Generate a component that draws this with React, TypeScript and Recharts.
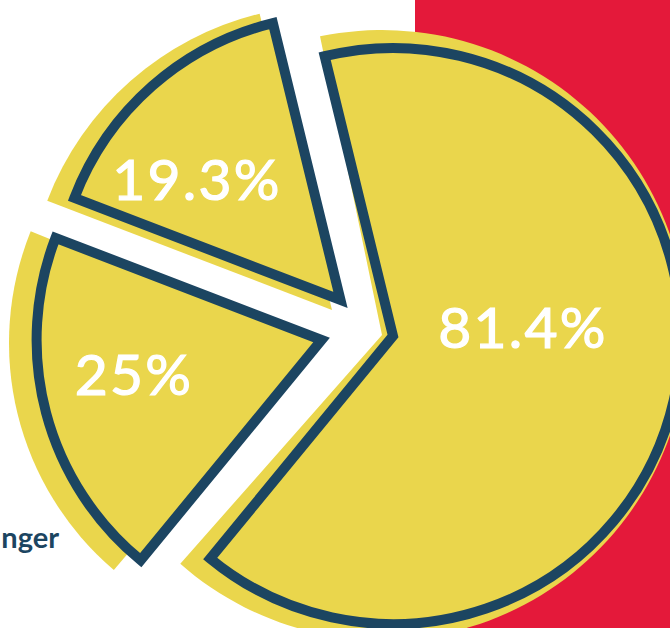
import React from 'react';
import { PieChart, Pie, Cell } from 'recharts';

// values as printed on the slices (the pie is drawn from them as-is)
const categories = ['A', 'B', 'C'];
const values = [81.4, 19.3, 25];
const sideText = 'nger';

const data = categories.map((name, i) => ({ name, value: values[i] }));

const YELLOW = '#EAD64C';
const NAVY = '#1C4561';
const RED = '#E4193A';

const START_ANGLE = 230.6;
const MAIN_R = [288, 285, 285];
// each slice is exploded on its own centre
const MAIN_CENTERS = [[388, 331], [335.5, 295], [316.6, 335]];
// the yellow "offset" copy behind each outlined slice
const SHADOW_SHIFT = [[-11, -1], [-8.5, 10], [-14.6, 3]];
const SHADOW_R = [305, 305, 298];
const SHADOW_ROT = [-2, 0, -1];
const LABEL_POS = [[523, 348], [197, 200], [134, 395]];

const labelFor = (slice: number) => (props: any) => {
  if (props.index !== slice) return null;
  const [x, y] = LABEL_POS[slice];
  return (
    <text
      key={`lbl-${slice}`}
      x={x}
      y={y}
      textAnchor="middle"
      fill="#ffffff"
      stroke="#ffffff"
      strokeWidth={1.2}
      fontFamily="Lato, 'Open Sans', sans-serif"
      fontWeight={400}
      fontSize={57}
      letterSpacing={2.2}
    >
      {`${values[slice]}%`}
    </text>
  );
};

export default function App() {
  return (
    <div style={{ position: 'fixed', left: 0, top: 0, width: 670, height: 628, overflow: 'hidden', background: '#fff' }}>
      <div style={{ position: 'absolute', left: 415, top: 0, width: 255, height: 628, background: RED }} />
      <div
        style={{
          position: 'absolute', right: 670 - 59, top: 519, fontFamily: 'Lato, sans-serif', fontWeight: 700,
          fontSize: 29, color: NAVY, whiteSpace: 'nowrap', lineHeight: '36px',
        }}
      >
        {sideText}
      </div>
      <div style={{ position: 'absolute', left: 0, top: 0 }}>
        <PieChart width={670} height={628}>
          {data.map((_, i) => (
            <Pie
              key={`shadow-${i}`}
              data={data}
              dataKey="value"
              nameKey="name"
              cx={MAIN_CENTERS[i][0] + SHADOW_SHIFT[i][0]}
              cy={MAIN_CENTERS[i][1] + SHADOW_SHIFT[i][1]}
              innerRadius={0}
              outerRadius={SHADOW_R[i]}
              startAngle={START_ANGLE + SHADOW_ROT[i]}
              endAngle={START_ANGLE + SHADOW_ROT[i] + 360}
              stroke="none"
              isAnimationActive={false}
            >
              {data.map((d, j) => (
                <Cell key={d.name} fill={j === i ? YELLOW : 'none'} stroke="none" />
              ))}
            </Pie>
          ))}
          {data.map((_, i) => (
            <Pie
              key={`main-${i}`}
              data={data}
              dataKey="value"
              nameKey="name"
              cx={MAIN_CENTERS[i][0]}
              cy={MAIN_CENTERS[i][1]}
              innerRadius={0}
              outerRadius={MAIN_R[i]}
              startAngle={START_ANGLE}
              endAngle={START_ANGLE + 360}
              isAnimationActive={false}
              labelLine={false}
              label={labelFor(i)}
            >
              {data.map((d, j) => (
                <Cell
                  key={d.name}
                  fill={j === i ? YELLOW : 'none'}
                  stroke={j === i ? NAVY : 'none'}
                  strokeWidth={10}
                  strokeLinejoin="miter"
                />
              ))}
            </Pie>
          ))}
        </PieChart>
      </div>
    </div>
  );
}
